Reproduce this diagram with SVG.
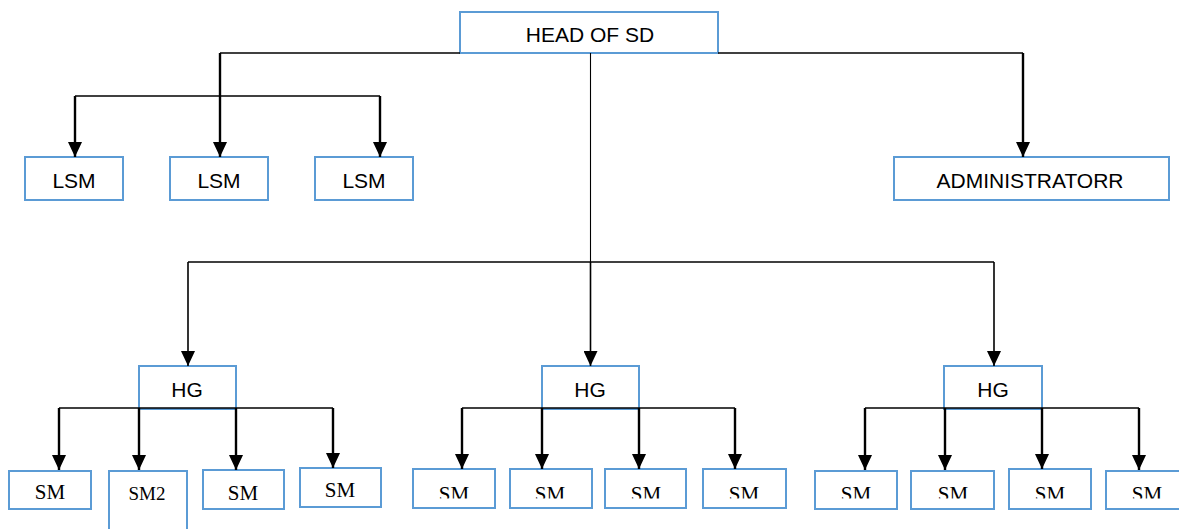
<svg xmlns="http://www.w3.org/2000/svg" width="1179" height="529" viewBox="0 0 1179 529">
<style>
.box{fill:#fff;stroke:#5B9BD5;stroke-width:2}
.nf{fill:none}
.sans{font-family:"Liberation Sans",Arial,sans-serif;font-size:21px;fill:#000;text-anchor:middle}
.serif{font-family:"Liberation Serif","Times New Roman",serif;font-size:21px;fill:#000;text-anchor:middle}
.ln{fill:none;stroke:#000;stroke-width:1.6}
.thin{fill:none;stroke:#000;stroke-width:1.1}
.arr{fill:none;stroke:#000;stroke-width:2.4;marker-end:url(#ah)}
.arr2{fill:none;stroke:#000;stroke-width:1.6;marker-end:url(#ah)}
</style>
<defs>
<marker id="ah" markerUnits="userSpaceOnUse" viewBox="0 0 15 14" refX="15" refY="7" markerWidth="15" markerHeight="14" orient="auto">
<path d="M0,0 L15,7 L0,14 z" fill="#000"/>
</marker>
<clipPath id="c2"><rect x="400" y="440" width="779" height="58.5"/></clipPath>
</defs>
<rect width="1179" height="529" fill="#fff"/>
<g id="head"><rect class="box" x="460" y="12" width="258" height="41"/><text class="sans" x="590" y="42">HEAD OF SD</text></g>
<g id="lsm1"><rect class="box" x="25" y="157" width="98" height="43"/><text class="sans" x="74" y="188">LSM</text></g>
<g id="lsm2"><rect class="box" x="170" y="157" width="98" height="43"/><text class="sans" x="219" y="188">LSM</text></g>
<g id="lsm3"><rect class="box" x="315" y="157" width="98" height="43"/><text class="sans" x="364" y="188">LSM</text></g>
<g id="admin"><rect class="box" x="894" y="157" width="275" height="43"/><text class="sans" x="1030" y="188">ADMINISTRATORR</text></g>
<g id="hg1"><rect class="box" x="139" y="366" width="97" height="43"/><text class="sans" x="187" y="397">HG</text></g>
<g id="hg2"><rect class="box" x="542" y="366" width="97" height="43"/><text class="sans" x="590" y="397">HG</text></g>
<g id="hg3"><rect class="box" x="944" y="366" width="98" height="43"/><text class="sans" x="993" y="397">HG</text></g>
<g id="sm1a"><rect class="box" x="9" y="471" width="82" height="38"/><text class="serif" x="50" y="499">SM</text></g>
<g id="sm1b"><rect class="box" x="109" y="471" width="78" height="62"/><text class="serif" x="147" y="500" style="font-size:19px">SM2</text></g>
<g id="sm1c"><rect class="box" x="203" y="470" width="81" height="39"/><text class="serif" x="243" y="500">SM</text></g>
<g id="sm1d"><rect class="box" x="300" y="468" width="81" height="39"/><text class="serif" x="340" y="497">SM</text></g>
<g clip-path="url(#c2)">
<g id="sm2a"><rect class="box" x="413" y="469" width="82" height="39"/><text class="serif" x="454" y="501">SM</text></g>
<g id="sm2b"><rect class="box" x="510" y="469" width="82" height="39"/><text class="serif" x="550" y="501">SM</text></g>
<g id="sm2c"><rect class="box" x="605" y="469" width="81" height="39"/><text class="serif" x="646" y="501">SM</text></g>
<g id="sm2d"><rect class="box" x="703" y="469" width="83" height="39"/><text class="serif" x="744" y="501">SM</text></g>
<g id="sm3a"><rect class="box" x="815" y="471" width="82" height="38"/><text class="serif" x="856" y="501">SM</text></g>
<g id="sm3b"><rect class="box" x="911" y="471" width="83" height="38"/><text class="serif" x="953" y="501">SM</text></g>
<g id="sm3c"><rect class="box" x="1009" y="469" width="82" height="40"/><text class="serif" x="1050" y="501">SM</text></g>
<g id="sm3d"><rect class="box" x="1106" y="471" width="82" height="38"/><text class="serif" x="1147" y="501">SM</text></g>
</g>
<g id="sm-borders">
<rect class="box nf" x="413" y="469" width="82" height="39"/>
<rect class="box nf" x="510" y="469" width="82" height="39"/>
<rect class="box nf" x="605" y="469" width="81" height="39"/>
<rect class="box nf" x="703" y="469" width="83" height="39"/>
<rect class="box nf" x="815" y="471" width="82" height="38"/>
<rect class="box nf" x="911" y="471" width="83" height="38"/>
<rect class="box nf" x="1009" y="469" width="82" height="40"/>
<rect class="box nf" x="1106" y="471" width="82" height="38"/>
</g>
<g id="connectors">
<path class="ln" d="M460,53 H220"/>
<path class="arr" d="M220,53 V157"/>
<path class="ln" d="M75,96 H380"/>
<path class="arr" d="M75,96 V157"/>
<path class="arr" d="M380,96 V157"/>
<path class="ln" d="M718,53 H1023"/>
<path class="arr" d="M1023,53 V157"/>
<path class="thin" d="M590.5,53 V262"/>
<path class="ln" d="M188,262 H994"/>
<path class="arr2" d="M188,262 V366"/>
<path class="arr2" d="M590.5,262 V366"/>
<path class="arr2" d="M994,262 V366"/>
<path class="ln" d="M59,408 H333"/>
<path class="arr" d="M59,408 V470"/>
<path class="arr" d="M139,408 V470"/>
<path class="arr" d="M236,408 V470"/>
<path class="arr" d="M333,408 V468"/>
<path class="ln" d="M462,408 H735"/>
<path class="arr" d="M462,408 V469"/>
<path class="arr" d="M542,408 V469"/>
<path class="arr" d="M639,408 V469"/>
<path class="arr" d="M735,408 V469"/>
<path class="ln" d="M865,408 H1139"/>
<path class="arr" d="M865,408 V470"/>
<path class="arr" d="M945,408 V470"/>
<path class="arr" d="M1042,408 V469"/>
<path class="arr" d="M1139,408 V470"/>
</g>
</svg>
